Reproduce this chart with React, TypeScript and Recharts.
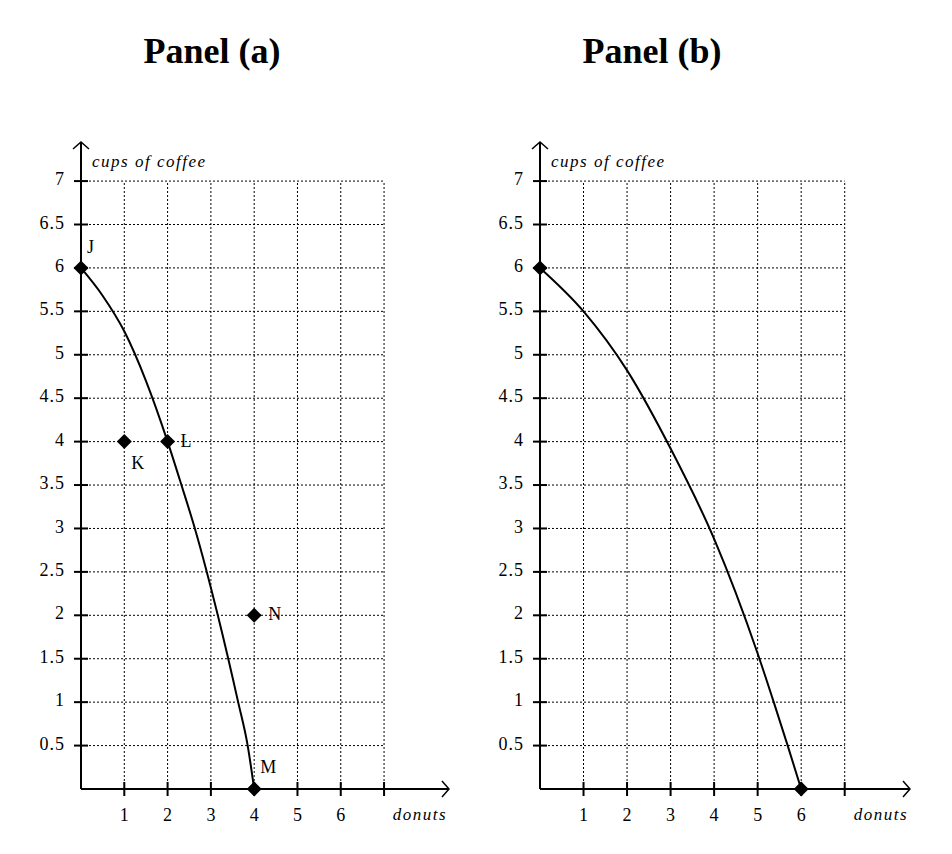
import React from "react";
import {
  ScatterChart,
  Scatter,
  XAxis,
  YAxis,
  ReferenceLine,
  ReferenceDot,
} from "recharts";

// panel (a): production possibilities curve and marked points
const ppfAx = [0, 0.5, 1, 1.5, 2, 2.32, 2.63, 3.16, 3.63, 3.85, 4];
const ppfAy = [6, 5.68, 5.27, 4.7, 4, 3.5, 3, 2, 1, 0.5, 0];
const pointsAName = ["J", "K", "L", "N", "M"];
const pointsAx = [0, 1, 2, 4, 4];
const pointsAy = [6, 4, 4, 2, 0];

// panel (b)
const ppfBx = [0, 1, 2, 3, 4, 5, 5.37, 5.69, 6];
const ppfBy = [6, 5.5, 4.82, 3.92, 2.88, 1.56, 1, 0.5, 0];
const pointsBx = [0, 6];
const pointsBy = [6, 0];

const xTicks = [1, 2, 3, 4, 5, 6, 7];
const yTicks = [0.5, 1, 1.5, 2, 2.5, 3, 3.5, 4, 4.5, 5, 5.5, 6, 6.5, 7];
const xLabelMax = 6;
const gridMax = 7;
const xMax = 8.5;
const yMax = 7.45;

const FONT = "'Liberation Serif', 'Times New Roman', serif";

const labelOffset: Record<string, [number, number]> = {
  J: [6, -19],
  K: [7, 23],
  L: [13, 1],
  N: [14, 1],
  M: [6, -20],
};

const XTick = (props: any) => {
  const { x, y, payload } = props;
  return (
    <g>
      <line x1={x} x2={x} y1={y - 7} y2={y + 7} stroke="#000" strokeWidth={2} />
      {payload.value <= xLabelMax && (
        <text x={x} y={y + 28} textAnchor="middle" dominantBaseline="middle"
          fontFamily={FONT} fontSize={18} fill="#000">
          {payload.value}
        </text>
      )}
    </g>
  );
};

const YTick = (props: any) => {
  const { x, y, payload } = props;
  return (
    <g>
      <line x1={x - 7} x2={x + 7} y1={y} y2={y} stroke="#000" strokeWidth={2} />
      <text x={x - 16} y={y} textAnchor="end" dominantBaseline="middle"
        fontFamily={FONT} fontSize={18} letterSpacing={1} fill="#000">
        {payload.value}
      </text>
    </g>
  );
};

const Diamond = (props: any) => {
  const { cx, cy, payload } = props;
  const s = 7.5;
  const off = payload.name ? labelOffset[payload.name] : null;
  return (
    <g>
      <path d={`M${cx},${cy - s}L${cx + s},${cy}L${cx},${cy + s}L${cx - s},${cy}Z`} fill="#000" />
      {off && (
        <text x={cx + off[0]} y={cy + off[1]} dominantBaseline="middle"
          fontFamily={FONT} fontSize={18} fill="#000">
          {payload.name}
        </text>
      )}
    </g>
  );
};

const XArrow = (props: any) => {
  const { cx, cy } = props;
  return (
    <g>
      <path d={`M${cx - 7},${cy - 8}L${cx},${cy}L${cx - 7},${cy + 8}`} fill="none" stroke="#000" strokeWidth={1.5} />
      <text x={cx - 2} y={cy + 27} textAnchor="end" dominantBaseline="middle"
        fontFamily={FONT} fontStyle="italic" fontSize={17} letterSpacing={1.5} fill="#000">
        donuts
      </text>
    </g>
  );
};

const YArrow = (props: any) => {
  const { cx, cy } = props;
  return (
    <g>
      <path d={`M${cx - 8},${cy + 7}L${cx},${cy}L${cx + 8},${cy + 7}`} fill="none" stroke="#000" strokeWidth={1.5} />
      <text x={cx + 11} y={cy + 21} dominantBaseline="middle"
        fontFamily={FONT} fontStyle="italic" fontSize={17} letterSpacing={1.5} fill="#000">
        cups of coffee
      </text>
    </g>
  );
};

const Empty = () => null;

function Panel({ curve, points, margin }: { curve: { x: number; y: number }[]; points: { x: number; y: number; name?: string }[]; margin: any }) {
  return (
    <ScatterChart width={476} height={854} margin={margin}>
      {yTicks.map((v) => (
        <ReferenceLine key={"h" + v} segment={[{ x: 0, y: v }, { x: gridMax, y: v }]}
          stroke="#000" strokeWidth={1} strokeDasharray="2 2" ifOverflow="visible" />
      ))}
      {xTicks.map((v) => (
        <ReferenceLine key={"v" + v} segment={[{ x: v, y: 0 }, { x: v, y: gridMax }]}
          stroke="#000" strokeWidth={1} strokeDasharray="2 2" ifOverflow="visible" />
      ))}
      <XAxis type="number" dataKey="x" domain={[0, xMax]} ticks={xTicks} interval={0}
        tick={<XTick />} tickLine={false} tickSize={0} tickMargin={0} height={30}
        axisLine={{ stroke: "#000", strokeWidth: 2 }} />
      <YAxis type="number" dataKey="y" domain={[0, yMax]} ticks={yTicks} interval={0}
        tick={<YTick />} tickLine={false} tickSize={0} tickMargin={0} width={40}
        axisLine={{ stroke: "#000", strokeWidth: 2 }} />
      <Scatter data={curve} line={{ stroke: "#000", strokeWidth: 2 }} lineType="joint"
        lineJointType="monotoneX" shape={<Empty />} isAnimationActive={false} />
      <Scatter data={points} shape={<Diamond />} isAnimationActive={false} />
      <ReferenceDot x={xMax} y={0} shape={<XArrow />} ifOverflow="visible" />
      <ReferenceDot x={0} y={yMax} shape={<YArrow />} ifOverflow="visible" />
    </ScatterChart>
  );
}

const titleStyle: React.CSSProperties = {
  position: "absolute",
  top: 33,
  width: 300,
  textAlign: "center",
  fontFamily: FONT,
  fontWeight: "bold",
  fontSize: 36,
  lineHeight: "36px",
  color: "#000",
};

export default function App() {
  const curveA = ppfAx.map((x, i) => ({ x, y: ppfAy[i] }));
  const curveB = ppfBx.map((x, i) => ({ x, y: ppfBy[i] }));
  const ptsA = pointsAx.map((x, i) => ({ x, y: pointsAy[i], name: pointsAName[i] }));
  const ptsB = pointsBx.map((x, i) => ({ x, y: pointsBy[i] }));
  return (
    <div style={{ position: "absolute", left: 0, top: 0, width: 952, height: 854, background: "#fff" }}>
      <div style={{ ...titleStyle, left: 212 - 150 }}>Panel (a)</div>
      <div style={{ ...titleStyle, left: 652 - 150 }}>Panel (b)</div>
      <div style={{ position: "absolute", left: 0, top: 0 }}>
        <Panel curve={curveA} points={ptsA} margin={{ top: 142, right: 27, bottom: 35, left: 41 }} />
      </div>
      <div style={{ position: "absolute", left: 476, top: 0 }}>
        <Panel curve={curveB} points={ptsB} margin={{ top: 142, right: 42, bottom: 35, left: 24 }} />
      </div>
    </div>
  );
}
